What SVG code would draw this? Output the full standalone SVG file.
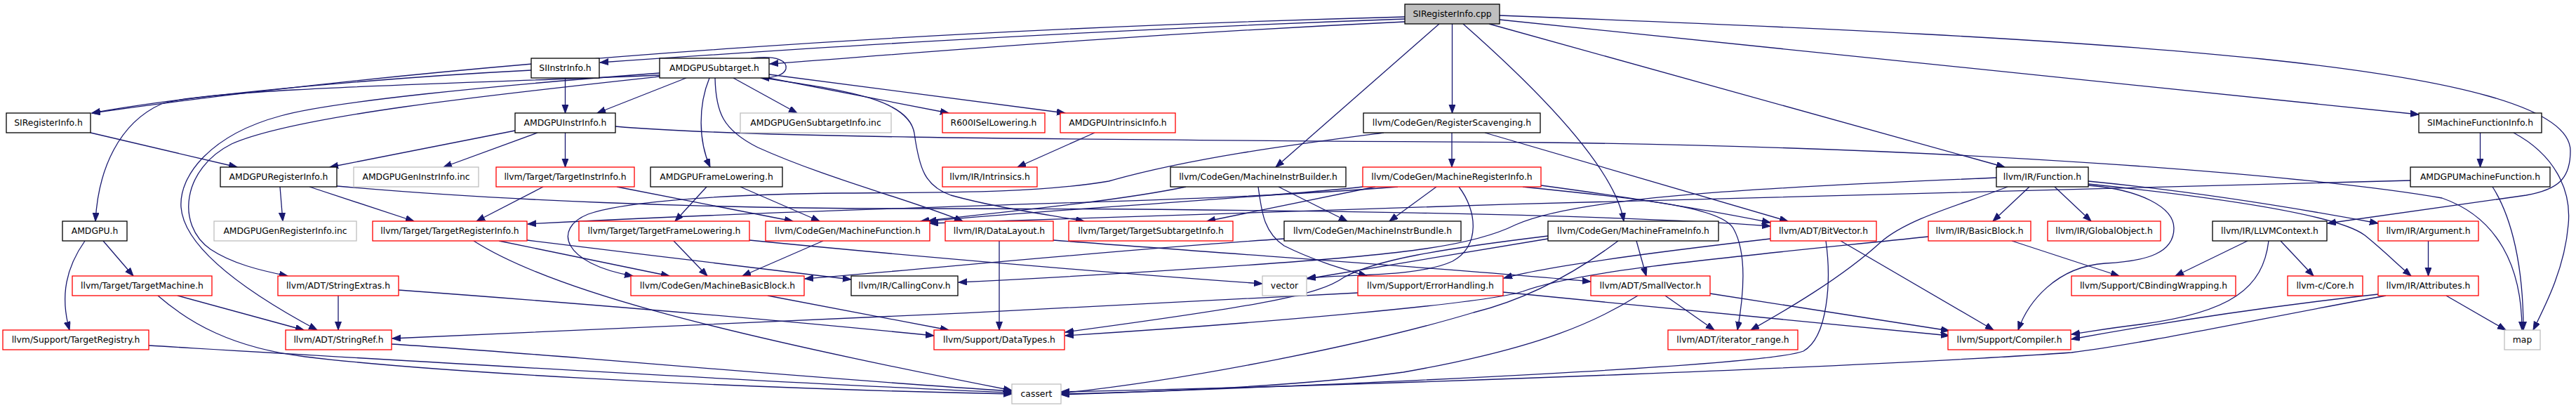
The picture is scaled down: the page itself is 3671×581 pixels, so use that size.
<svg xmlns="http://www.w3.org/2000/svg" width="3671" height="581" viewBox="0 0 3671 581">
<defs>
<style>
.n rect{fill:#fff;stroke:#000;stroke-width:1.3}
.r rect{stroke:#ff0000}
.g rect{stroke:#bfbfbf}
#root rect{fill:#bfbfbf}
text{font-family:"DejaVu Sans","Liberation Sans",sans-serif;font-size:12.4px;text-anchor:middle;fill:#000}
#edges path{fill:none;stroke:#191970;stroke-width:1.3;marker-end:url(#a)}
</style>
<marker id="a" markerUnits="userSpaceOnUse" markerWidth="13" markerHeight="10" refX="12" refY="4.5" orient="auto">
<path d="M0,0 L12,4.5 L0,9 z" fill="#191970" stroke="#191970" stroke-width="1"/>
</marker>
</defs>
<rect width="3671" height="581" fill="#fff"/>
<g id="edges">
<path d="M2002,24 C1400,40 700,80 131,161"/>
<path d="M2002,27 C1500,45 1100,72 855,89"/>
<path d="M2002,31 C1600,50 1300,76 1097,91"/>
<path d="M2069.5,34 L2069.5,161"/>
<path d="M2051,34 L1818,238"/>
<path d="M2085,34 C2160,100 2300,230 2314,315"/>
<path d="M2122,34 L2857,238"/>
<path d="M2137,28 L3447,163"/>
<path d="M2137,22 C3000,55 3663,90 3663,215 C3663,255 3645,270 3600,278 L3317,318"/>
<path d="M805.5,111 L805.5,161"/>
<path d="M757,100 C600,108 300,130 131,161"/>
<path d="M1070,83 C1110,78 1122,88 1120,98 C1118,106 1105,111 1084,111"/>
<path d="M940,107 C700,118 300,125 230,148 C170,175 140,240 136,315"/>
<path d="M940,109 C700,135 420,165 330,205 C260,240 250,320 300,355 C330,375 370,385 410,393"/>
<path d="M940,104 C700,122 470,145 400,165 C300,192 255,250 258,295 C262,350 340,410 452,470"/>
<path d="M978,111 L851,161"/>
<path d="M1011,111 C995,150 995,200 1012,238"/>
<path d="M1045,111 L1136,161"/>
<path d="M1090,110 L1352,161"/>
<path d="M1096,106 L1518,161"/>
<path d="M1088,111 C1200,128 1295,140 1303,190 C1310,240 1318,265 1355,278 C1420,296 1490,305 1545,315"/>
<path d="M1019,111 C1020,160 1030,185 1080,210 C1180,255 1300,285 1372,315"/>
<path d="M129,189 L338,238"/>
<path d="M734,186 L470,238"/>
<path d="M766,189 L632,238"/>
<path d="M805.5,189 L805.5,238"/>
<path d="M877,180 C1050,195 1400,198 2200,203 C2800,210 3300,250 3480,282 C3560,310 3594,380 3594,470"/>
<path d="M399,266 L403,315"/>
<path d="M441,266 L590,315"/>
<path d="M480,265 C700,285 1000,297 1300,297 C1800,297 2300,305 2523,322"/>
<path d="M774,266 L679,315"/>
<path d="M879,266 L1130,315"/>
<path d="M1007,266 L962,315"/>
<path d="M1055,266 L1168,315"/>
<path d="M1560,189 L1450,238"/>
<path d="M2069,189 L2069,238"/>
<path d="M2116,189 L2548,315"/>
<path d="M1972,189 C1850,205 1700,224 1580,258 C1480,275 1350,274 1200,275 C1000,277 880,290 838,305 C788,325 800,375 902,393"/>
<path d="M1690,266 C1600,285 1450,300 1312,315"/>
<path d="M1822,266 L1920,315"/>
<path d="M1793,266 C1798,300 1800,330 1830,350 C1870,370 1910,382 1948,393"/>
<path d="M2047,266 L1980,315"/>
<path d="M2079,266 C2105,300 2110,350 2070,372 C2020,395 1920,390 1863,396"/>
<path d="M1942,266 C1800,282 1500,298 1322,315"/>
<path d="M1992,266 C1700,290 1300,290 752,319"/>
<path d="M1960,266 L1720,315"/>
<path d="M2196,264 C2300,278 2420,296 2523,317"/>
<path d="M2170,266 C2320,282 2450,292 2470,325 C2490,360 2485,420 2476,470"/>
<path d="M2845,253 C2500,268 2250,280 2160,320 C2100,350 2000,362 1800,376 C1600,390 1450,398 1366,402"/>
<path d="M2861,266 C2800,290 2720,310 2680,345 C2620,400 2530,450 2495,470"/>
<path d="M2892,266 L2840,315"/>
<path d="M2928,266 L2980,315"/>
<path d="M2976,258 C3100,270 3250,292 3389,318"/>
<path d="M2976,262 C3150,280 3330,305 3370,335 C3395,355 3415,375 3436,393"/>
<path d="M2976,264 C3050,270 3098,295 3098,325 C3098,360 3060,372 3000,375 C2930,380 2890,430 2876,470"/>
<path d="M2867,343 L3020,393"/>
<path d="M2748,337 C2450,368 2250,385 2170,415 C2120,432 1800,460 1518,478"/>
<path d="M3203,343 L3100,393"/>
<path d="M3250,343 L3297,393"/>
<path d="M3233,343 C3225,410 3180,445 3050,462 C3000,468 2980,472 2952,476"/>
<path d="M3460.5,343 L3460.5,393"/>
<path d="M3486,421 L3571,470"/>
<path d="M3389,419 C3200,440 3050,465 2952,483"/>
<path d="M3400,421 C3200,458 3050,490 2952,502 C2700,520 2000,548 1512,558"/>
<path d="M3534.5,189 L3534.5,238"/>
<path d="M3582,189 C3640,220 3665,270 3660,320 C3655,380 3630,430 3610,470"/>
<path d="M3435,257 C3000,268 2000,292 1325,318"/>
<path d="M3552,266 C3580,310 3596,380 3596,470"/>
<path d="M2332,343 L2346,393"/>
<path d="M2206,340 L1863,397"/>
<path d="M2206,336 C2050,355 1960,370 1915,395 C1880,420 1800,435 1518,473"/>
<path d="M2306,343 C2250,385 2180,425 2100,445 C1950,490 1700,540 1512,560"/>
<path d="M2373,421 L2443,470"/>
<path d="M2437,418 L2778,471"/>
<path d="M2334,421 C2280,455 2200,495 2000,530 C1850,550 1650,558 1512,561"/>
<path d="M2142,416 L2778,478"/>
<path d="M1935,417 C1500,440 900,470 559,482"/>
<path d="M2623,343 L2841,470"/>
<path d="M2523,340 C2350,360 2200,380 2143,396"/>
<path d="M2602,343 C2610,400 2605,480 2570,500 C2520,520 2000,545 1512,562"/>
<path d="M253,421 L433,470"/>
<path d="M225,421 C270,460 330,495 435,508 C600,528 1000,552 1442,561"/>
<path d="M212,492 C600,515 1100,545 1442,559"/>
<path d="M558,490 C800,505 1100,535 1442,557"/>
<path d="M482,421 L482,470"/>
<path d="M568,413 C800,430 1100,455 1331,478"/>
<path d="M147,343 L190,393"/>
<path d="M121,343 C95,380 85,420 99,470"/>
<path d="M711,343 L954,393"/>
<path d="M751,342 C900,360 1100,385 1213,398"/>
<path d="M675,343 C780,410 1000,470 1442,556"/>
<path d="M960,343 L1008,393"/>
<path d="M1068,342 C1300,365 1600,390 1799,404"/>
<path d="M1173,343 L1058,393"/>
<path d="M1830,340 C1600,355 1300,385 1147,397"/>
<path d="M1424,343 L1424,470"/>
<path d="M1501,342 C1800,365 2100,385 2267,401"/>
<path d="M1094,421 L1352,470"/>
</g>
<g id="root" class="n"><rect x="2002" y="6" width="135" height="28"/><text x="2069.5" y="24.4">SIRegisterInfo.cpp</text></g>
<g id="siinstr" class="n"><rect x="757" y="83" width="97" height="28"/><text x="805.5" y="101.4">SIInstrInfo.h</text></g>
<g id="subtarget" class="n"><rect x="940" y="83" width="156" height="28"/><text x="1018" y="101.4">AMDGPUSubtarget.h</text></g>
<g id="siregh" class="n"><rect x="9" y="161" width="120" height="28"/><text x="69" y="179.4">SIRegisterInfo.h</text></g>
<g id="amdinstr" class="n"><rect x="734" y="161" width="143" height="28"/><text x="805.5" y="179.4">AMDGPUInstrInfo.h</text></g>
<g id="gensub" class="n g"><rect x="1055" y="161" width="215" height="28"/><text x="1162.5" y="179.4">AMDGPUGenSubtargetInfo.inc</text></g>
<g id="r600" class="n r"><rect x="1343" y="161" width="146" height="28"/><text x="1416" y="179.4">R600ISelLowering.h</text></g>
<g id="intrinfo" class="n r"><rect x="1511" y="161" width="164" height="28"/><text x="1593" y="179.4">AMDGPUIntrinsicInfo.h</text></g>
<g id="regscav" class="n"><rect x="1943" y="161" width="252" height="28"/><text x="2069" y="179.4">llvm/CodeGen/RegisterScavenging.h</text></g>
<g id="simfi" class="n"><rect x="3447" y="161" width="175" height="28"/><text x="3534.5" y="179.4">SIMachineFunctionInfo.h</text></g>
<g id="amdreg" class="n"><rect x="314" y="238" width="166" height="28"/><text x="397" y="256.4">AMDGPURegisterInfo.h</text></g>
<g id="geninstr" class="n g"><rect x="504" y="238" width="178" height="28"/><text x="593" y="256.4">AMDGPUGenInstrInfo.inc</text></g>
<g id="tii" class="n r"><rect x="707" y="238" width="197" height="28"/><text x="805.5" y="256.4">llvm/Target/TargetInstrInfo.h</text></g>
<g id="amdframe" class="n"><rect x="927" y="238" width="188" height="28"/><text x="1021" y="256.4">AMDGPUFrameLowering.h</text></g>
<g id="intrinsics" class="n r"><rect x="1343" y="238" width="135" height="28"/><text x="1410.5" y="256.4">llvm/IR/Intrinsics.h</text></g>
<g id="mib" class="n"><rect x="1668" y="238" width="250" height="28"/><text x="1793" y="256.4">llvm/CodeGen/MachineInstrBuilder.h</text></g>
<g id="mri" class="n r"><rect x="1942" y="238" width="254" height="28"/><text x="2069" y="256.4">llvm/CodeGen/MachineRegisterInfo.h</text></g>
<g id="function" class="n"><rect x="2845" y="238" width="131" height="28"/><text x="2910.5" y="256.4">llvm/IR/Function.h</text></g>
<g id="amdmf" class="n"><rect x="3435" y="238" width="199" height="28"/><text x="3534.5" y="256.4">AMDGPUMachineFunction.h</text></g>
<g id="amdgpuh" class="n"><rect x="89" y="315" width="92" height="28"/><text x="135" y="333.4">AMDGPU.h</text></g>
<g id="genreg" class="n g"><rect x="305" y="315" width="203" height="28"/><text x="406.5" y="333.4">AMDGPUGenRegisterInfo.inc</text></g>
<g id="tri" class="n r"><rect x="531" y="315" width="220" height="28"/><text x="641" y="333.4">llvm/Target/TargetRegisterInfo.h</text></g>
<g id="tfl" class="n r"><rect x="825" y="315" width="243" height="28"/><text x="946.5" y="333.4">llvm/Target/TargetFrameLowering.h</text></g>
<g id="mf" class="n r"><rect x="1091" y="315" width="234" height="28"/><text x="1208" y="333.4">llvm/CodeGen/MachineFunction.h</text></g>
<g id="datalayout" class="n r"><rect x="1347" y="315" width="154" height="28"/><text x="1424" y="333.4">llvm/IR/DataLayout.h</text></g>
<g id="tsi" class="n r"><rect x="1523" y="315" width="234" height="28"/><text x="1640" y="333.4">llvm/Target/TargetSubtargetInfo.h</text></g>
<g id="mibundle" class="n"><rect x="1830" y="315" width="252" height="28"/><text x="1956" y="333.4">llvm/CodeGen/MachineInstrBundle.h</text></g>
<g id="mfi" class="n"><rect x="2206" y="315" width="243" height="28"/><text x="2327.5" y="333.4">llvm/CodeGen/MachineFrameInfo.h</text></g>
<g id="bitvector" class="n r"><rect x="2523" y="315" width="151" height="28"/><text x="2598.5" y="333.4">llvm/ADT/BitVector.h</text></g>
<g id="basicblock" class="n r"><rect x="2748" y="315" width="146" height="28"/><text x="2821" y="333.4">llvm/IR/BasicBlock.h</text></g>
<g id="globalobj" class="n r"><rect x="2918" y="315" width="161" height="28"/><text x="2998.5" y="333.4">llvm/IR/GlobalObject.h</text></g>
<g id="llvmctx" class="n"><rect x="3153" y="315" width="163" height="28"/><text x="3234.5" y="333.4">llvm/IR/LLVMContext.h</text></g>
<g id="argument" class="n r"><rect x="3389" y="315" width="143" height="28"/><text x="3460.5" y="333.4">llvm/IR/Argument.h</text></g>
<g id="tm" class="n r"><rect x="103" y="393" width="199" height="28"/><text x="202.5" y="411.4">llvm/Target/TargetMachine.h</text></g>
<g id="strext" class="n r"><rect x="396" y="393" width="172" height="28"/><text x="482" y="411.4">llvm/ADT/StringExtras.h</text></g>
<g id="mbb" class="n r"><rect x="899" y="393" width="247" height="28"/><text x="1022.5" y="411.4">llvm/CodeGen/MachineBasicBlock.h</text></g>
<g id="callconv" class="n"><rect x="1213" y="393" width="152" height="28"/><text x="1289" y="411.4">llvm/IR/CallingConv.h</text></g>
<g id="vector" class="n g"><rect x="1799" y="393" width="63" height="28"/><text x="1830.5" y="411.4">vector</text></g>
<g id="errh" class="n r"><rect x="1935" y="393" width="207" height="28"/><text x="2038.5" y="411.4">llvm/Support/ErrorHandling.h</text></g>
<g id="smallvec" class="n r"><rect x="2267" y="393" width="170" height="28"/><text x="2352" y="411.4">llvm/ADT/SmallVector.h</text></g>
<g id="cbind" class="n r"><rect x="2952" y="393" width="234" height="28"/><text x="3069" y="411.4">llvm/Support/CBindingWrapping.h</text></g>
<g id="core" class="n r"><rect x="3260" y="393" width="107" height="28"/><text x="3313.5" y="411.4">llvm-c/Core.h</text></g>
<g id="attrs" class="n r"><rect x="3389" y="393" width="143" height="28"/><text x="3460.5" y="411.4">llvm/IR/Attributes.h</text></g>
<g id="treg" class="n r"><rect x="4" y="470" width="208" height="28"/><text x="108" y="488.4">llvm/Support/TargetRegistry.h</text></g>
<g id="strref" class="n r"><rect x="407" y="470" width="151" height="28"/><text x="482.5" y="488.4">llvm/ADT/StringRef.h</text></g>
<g id="datatypes" class="n r"><rect x="1331" y="470" width="186" height="28"/><text x="1424" y="488.4">llvm/Support/DataTypes.h</text></g>
<g id="iterrange" class="n r"><rect x="2377" y="470" width="185" height="28"/><text x="2469.5" y="488.4">llvm/ADT/iterator_range.h</text></g>
<g id="compiler" class="n r"><rect x="2776" y="470" width="175" height="28"/><text x="2863.5" y="488.4">llvm/Support/Compiler.h</text></g>
<g id="map" class="n g"><rect x="3569" y="470" width="51" height="28"/><text x="3594.5" y="488.4">map</text></g>
<g id="cassert" class="n g"><rect x="1442" y="547" width="70" height="28"/><text x="1477" y="565.4">cassert</text></g>
</svg>
